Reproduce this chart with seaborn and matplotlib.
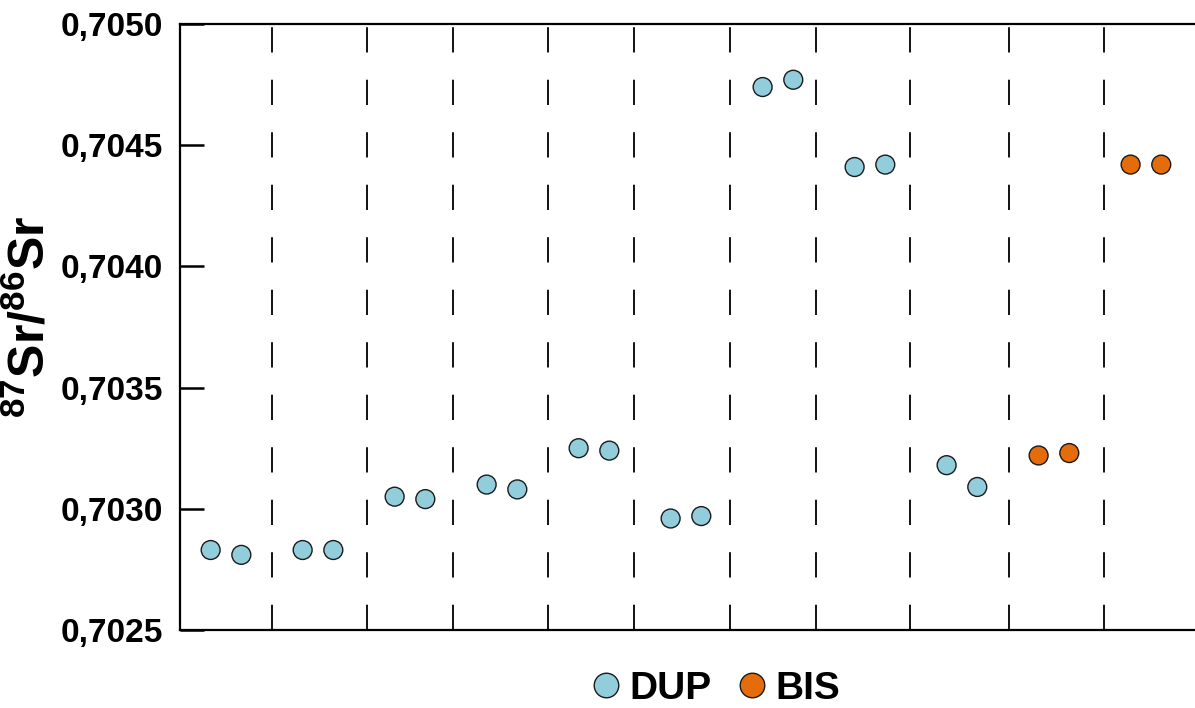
import matplotlib
matplotlib.use("Agg")
import matplotlib.pyplot as plt
import seaborn as sns
import pandas as pd
import numpy as np

# ---- data ----
sample_pos = [0, 1, 3, 4, 6, 7, 9, 10, 12, 13, 15, 16, 18, 19, 21, 22, 24, 25, 27, 28, 30, 31]
sr_ratio = [0.70283, 0.70281, 0.70283, 0.70283, 0.70305, 0.70304, 0.70310, 0.70308,
            0.70325, 0.70324, 0.70296, 0.70297, 0.70474, 0.70477, 0.70441, 0.70442,
            0.70318, 0.70309, 0.70322, 0.70323, 0.70442, 0.70442]
group = ["DUP"] * 18 + ["BIS"] * 4
separators = [2.0, 5.1, 7.89, 10.99, 13.82, 16.93, 19.73, 22.8, 26.02, 29.12]
yticks = [0.7025, 0.7030, 0.7035, 0.7040, 0.7045, 0.7050]
ytick_labels = ["0,7025", "0,7030", "0,7035", "0,7040", "0,7045", "0,7050"]

df = pd.DataFrame({"x": sample_pos, "y": sr_ratio, "group": group})

sns.set_theme(style="white")
plt.rcParams["font.family"] = ["Liberation Sans", "DejaVu Sans"]
plt.rcParams["font.weight"] = "bold"
plt.rcParams["text.color"] = "black"
plt.rcParams["axes.labelcolor"] = "black"
plt.rcParams["ytick.color"] = "black"
plt.rcParams["xtick.color"] = "black"
plt.rcParams["mathtext.fontset"] = "custom"
plt.rcParams["mathtext.rm"] = "Liberation Sans:bold"
plt.rcParams["mathtext.bf"] = "Liberation Sans:bold"
plt.rcParams["mathtext.it"] = "Liberation Sans:bold"

fig = plt.figure(figsize=(11.95, 7.08), dpi=100)
ax = fig.add_axes([180 / 1195, 78 / 708, 1015 / 1195, 606 / 708])

for sx in separators:
    ax.axvline(sx, color="#111111", lw=1.4, dashes=(13, 14), zorder=1)

palette = {"DUP": "#92CDDC", "BIS": "#E46C0A"}
sns.scatterplot(data=df, x="x", y="y", hue="group", palette=palette, s=185,
                edgecolor="#1a1a1a", linewidth=1.0, ax=ax, zorder=3, legend=True)

ax.set_xlim(-1, 32.1)
ax.set_ylim(0.7025, 0.7050)
ax.set_yticks(yticks)
ax.set_yticklabels(ytick_labels, fontsize=24, fontweight="bold", color="black")
ax.set_xticks([])
ax.set_xlabel("")
ax.set_ylabel("")
ax.tick_params(axis="y", direction="in", length=17, width=1.8, pad=12, left=True, colors="black")

for side in ["left", "top", "bottom"]:
    ax.spines[side].set_visible(True)
    ax.spines[side].set_color("black")
    ax.spines[side].set_linewidth(1.6)
ax.spines["right"].set_visible(False)

fig.text(30 / 1195, 1 - 317 / 708, r"$\mathbf{^{87}Sr/^{86}Sr}$", rotation=90,
         ha="center", va="center", fontsize=36, color="black")

handles, labels = ax.get_legend_handles_labels()
ax.get_legend().remove()
leg = fig.legend(handles, labels, loc="center", bbox_to_anchor=(715 / 1195, 1 - 689 / 708),
                 ncol=2, frameon=False, markerscale=1.3, handlelength=0.8,
                 handletextpad=0.2, columnspacing=0.65, prop={"size": 28, "weight": "bold"})
for t in leg.get_texts():
    t.set_color("black")

fig.savefig("out.png", dpi=100)
